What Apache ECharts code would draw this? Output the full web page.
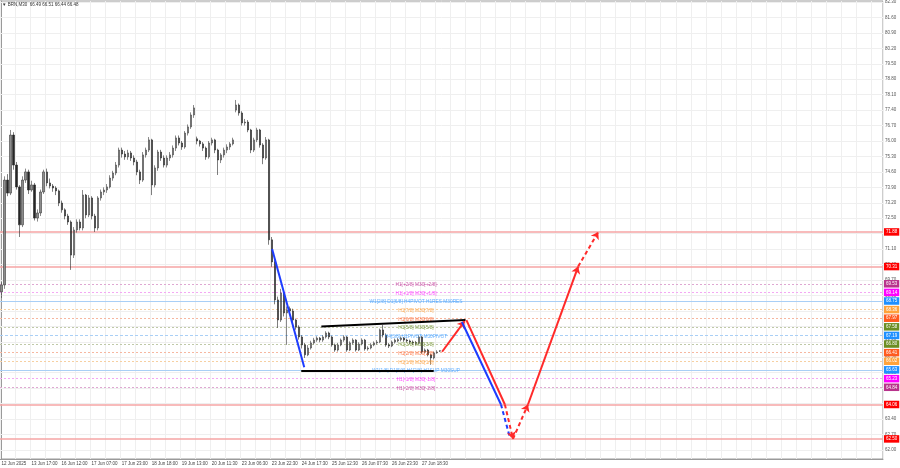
<!DOCTYPE html>
<html><head><meta charset="utf-8">
<script src="https://cdn.jsdelivr.net/npm/echarts@6/dist/echarts.min.js"></script>
<style>html,body{margin:0;padding:0;background:#fff}#c{width:900px;height:468px}</style>
</head><body><div id="c"></div>
<script>
// ---------- data ----------
const titleText = '\u25BC BRN,M30  66.49 66.51 66.44 66.48';
const xLabels = ['12 Jun 2025','13 Jun 17:00','16 Jun 12:00','17 Jun 07:00','17 Jun 23:00','18 Jun 18:00','19 Jun 13:00','20 Jun 11:30','23 Jun 06:30','23 Jun 22:30','24 Jun 17:30','25 Jun 12:30','26 Jun 07:30','26 Jun 23:30','27 Jun 18:30'];
const yTicks = [62.00,62.70,63.40,64.10,64.80,65.50,66.20,66.90,67.60,68.30,69.00,69.70,70.40,71.10,71.80,72.50,73.20,73.90,74.60,75.30,76.00,76.70,77.40,78.10,78.80,79.50,80.20,80.90,81.60,82.30];
// [open, close, low, high]
const ohlc = [
[69.16,69.48,68.89,69.60],[69.48,74.23,69.30,74.40],[74.23,73.64,73.50,74.50],[73.64,76.27,73.55,76.50],[76.27,74.91,74.70,76.40],
[74.91,73.92,73.80,75.05],[73.92,72.20,71.65,74.00],[72.20,74.23,72.10,74.40],[74.23,74.60,74.10,74.75],[74.60,73.78,73.60,74.70],
[73.78,74.01,73.70,74.20],[74.01,72.51,72.40,74.10],[72.51,72.74,72.35,72.90],[72.74,73.69,72.60,73.80],[73.69,74.60,73.60,74.70],
[74.60,74.10,73.95,74.75],[74.10,73.96,73.85,74.30],[73.96,73.87,73.70,74.05],[73.87,73.74,73.55,73.95],[73.74,73.19,73.05,73.80],
[73.19,72.88,72.75,73.30],[72.88,72.60,72.45,72.95],[72.60,72.33,72.20,72.70],[72.33,70.83,70.16,72.40],[70.83,71.97,70.70,72.10],
[71.97,72.33,71.85,72.45],[72.33,72.06,71.95,72.45],[72.06,73.55,71.95,73.78],[73.55,72.65,72.50,73.60],[72.65,73.42,72.55,73.55],
[73.42,72.60,72.45,73.50],[72.60,72.06,71.88,72.70],[72.06,73.42,71.95,73.50],[73.42,73.69,73.30,73.80],[73.69,73.78,73.55,73.90],
[73.78,73.92,73.65,74.05],[73.92,74.32,73.85,74.45],[74.32,74.55,74.20,74.65],[74.55,74.91,74.45,75.05],[74.91,75.59,74.80,75.70],
[75.59,75.41,75.25,75.70],[75.41,75.28,75.15,75.55],[75.28,75.46,75.15,75.60],[75.46,75.23,75.10,75.55],[75.23,75.05,74.90,75.35],
[75.05,74.60,74.45,75.15],[74.60,74.23,74.05,74.70],[74.23,75.37,74.15,75.50],[75.37,75.59,75.25,75.70],[75.59,76.05,75.50,76.18],
[76.05,74.01,73.55,76.10],[74.01,74.78,73.90,74.90],[74.78,75.50,74.65,75.60],[75.50,75.23,75.10,75.60],[75.23,74.91,74.80,75.35],
[74.91,75.23,74.80,75.35],[75.23,75.37,75.10,75.50],[75.37,75.68,75.25,75.80],[75.68,76.14,75.55,76.25],[76.14,75.91,75.80,76.25],
[75.91,75.73,75.60,76.00],[75.73,76.36,75.65,76.45],[76.36,76.64,76.25,76.75],[76.64,77.18,76.55,77.30],[77.18,77.50,77.05,77.63],
[76.10,76.00,75.85,76.20],[76.00,75.87,75.75,76.05],[75.87,75.68,75.55,75.95],[75.68,75.28,75.15,75.75],[75.28,75.91,75.20,76.00],
[75.91,76.05,75.80,76.15],[76.05,75.59,75.45,76.10],[75.59,75.14,74.46,75.65],[75.14,75.37,75.00,75.45],[75.37,75.59,75.25,75.70],
[75.59,75.73,75.45,75.85],[75.73,75.87,75.60,75.95],[75.87,76.05,75.80,76.15],[77.40,77.63,77.30,77.86],[77.63,77.27,77.15,77.70],
[77.27,76.82,76.70,77.35],[76.82,76.86,76.70,77.00],[76.86,76.50,76.40,76.95],[76.50,75.59,75.45,76.55],[75.59,76.05,75.50,76.15],
[76.05,76.50,75.95,76.60],[76.50,75.82,75.70,76.55],[75.82,75.23,74.95,75.90],[75.23,76.05,75.15,76.18],[76.05,71.52,71.30,76.10],
[71.52,70.52,70.30,71.65],[70.52,68.80,68.60,70.60],[68.80,67.89,67.53,68.95],[67.89,69.11,67.80,69.30],[69.11,68.21,68.05,69.20],
[68.21,68.34,66.76,68.50],[68.40,68.30,68.15,68.50],[68.30,67.89,67.75,68.40],[67.89,67.57,67.45,67.95],[67.57,67.12,67.00,67.65],
[67.12,66.76,66.60,67.20],[66.76,66.31,66.17,66.85],[66.31,66.62,66.25,66.75],[66.62,66.85,66.55,66.95],[66.85,66.98,66.78,67.08],
[66.98,67.07,66.90,67.15],[67.07,66.98,66.88,67.12],[66.98,67.12,66.90,67.20],[67.12,67.30,67.05,67.38],[67.30,67.12,67.02,67.36],
[67.12,66.76,66.68,67.18],[66.76,66.53,66.45,66.82],[66.53,66.76,66.46,66.85],[66.76,66.98,66.70,67.05],[66.98,67.12,66.90,67.20],
[67.12,66.53,66.45,67.16],[66.53,66.85,66.48,66.92],[66.85,66.98,66.78,67.06],[66.98,66.53,66.46,67.02],[66.53,66.80,66.48,66.88],
[66.80,66.98,66.74,67.06],[66.98,66.58,66.50,67.03],[66.58,66.62,66.50,66.70],[66.62,66.76,66.56,66.84],[66.76,66.85,66.70,66.92],
[66.85,66.89,66.78,66.98],[66.89,67.44,66.84,67.50],[67.44,67.21,67.10,67.66],[67.21,66.76,66.68,67.28],[66.76,66.71,66.62,66.84],
[66.71,66.89,66.66,66.96],[66.89,66.98,66.82,67.05],[66.94,67.00,66.88,67.08],[67.00,67.07,66.92,67.14],[67.07,66.98,66.90,67.12],
[66.98,66.94,66.86,67.04],[66.94,66.89,66.80,67.00],[66.89,66.85,66.76,66.96],[66.87,66.83,66.74,66.94],[66.83,67.12,66.78,67.20],
[67.12,66.44,66.36,67.16],[66.44,66.53,66.38,66.60],[66.53,66.31,66.24,66.58],[66.31,66.17,65.86,66.36],[66.17,66.40,66.10,66.46],
[66.40,66.44,66.36,66.52],[66.49,66.48,66.44,66.51]
];
const levelValues = [71.88,70.31,69.53,69.14,68.75,68.36,67.97,67.58,67.19,66.80,66.41,66.02,65.63,65.23,64.84,64.06,62.50];
const levelKinds  = ['red','red','purple','magenta','w1','orange','orangered','olive','pivot','olive','orangered','orange','w1','magenta','purple','red','red'];
const levelTexts  = ['','','H1[+2/8] M30[+2/8]','H1[+1/8] M30[+1/8]','W1[2/8] D1[6/8] H4PIVOT H1RES M30RES','H1[7/8] M30[7/8]','H1[6/8] M30[6/8]','H1[5/8] M30[5/8]','H4[3/8] H1PIVOT M30PIVOT','H1[3/8] M30[3/8]','H1[2/8] M30[2/8]','H1[1/8] M30[1/8]','W1[1/8] D1[5/8] H4[2/8] H1SUP M30SUP','H1[-1/8] M30[-1/8]','H1[-2/8] M30[-2/8]','',''];
const lastPrice = 66.48;
// annotation drawings: [barIndex, price]
const blueTrend     = [[90.1,71.11],[100.8,65.75]];
const channelTop    = [[106.5,67.59],[154.5,67.89]];
const channelBottom = [[99.8,65.59],[143.9,65.59]];
const projUp1       = [[146.7,66.45],[154.2,67.84]];
const projDownBlue  = [[153.3,67.80],[166.3,64.06],[169.3,62.55]];
const projDownRed   = [[154.8,67.88],[167.6,64.06],[170.3,62.50]];
const projUpRed     = [[170.3,62.50],[175.3,64.06],[192.0,70.31],[198.7,71.88]];

// ---------- styles ----------
const FONT = '"Liberation Sans", Arial, sans-serif';
const N = 294;
const TEXT_X = 138;
const levelStyle = {
  red:       {line:'#f6a4a4', width:1.5, type:'solid',  box:'#ff0000', text:'#ff0000'},
  purple:    {line:'#dfa8d2', width:1,   type:[2,2],    box:'#b8338c', text:'#c23a98'},
  magenta:   {line:'#f4a8f4', width:1,   type:[2,2],    box:'#ff00ff', text:'#ff2cff'},
  w1:        {line:'#a9cff6', width:1,   type:'solid',  box:'#1e90ff', text:'#3a9bff'},
  pivot:     {line:'#a9cff6', width:1,   type:[3,2],    box:'#1e90ff', text:'#3a9bff'},
  orange:    {line:'#f6d0a2', width:1,   type:[2,2],    box:'#ffa33a', text:'#ff9a2e'},
  orangered: {line:'#f6b7a0', width:1,   type:[2,2],    box:'#ff5a1e', text:'#ff5a1e'},
  olive:     {line:'#c0c9a8', width:1,   type:[2,2],    box:'#6b8e23', text:'#6b8e23'}
};
const boxLabel = (txt, bg) => ({show:true, position:'end', distance:1, formatter:txt, color:'#fff',
  backgroundColor:bg, padding:[1.5,2,1,2], fontSize:4.5, fontFamily:FONT});

const levelLines = levelValues.map((v,k) => {
  const s = levelStyle[levelKinds[k]];
  return {yAxis:v, lineStyle:{color:s.line, width:s.width, type:s.type}, label:boxLabel(v.toFixed(2), s.box)};
});
levelLines.push({yAxis:lastPrice, lineStyle:{opacity:0, width:0}, label:boxLabel(lastPrice.toFixed(2), '#000')});

const textPoints = levelValues.map((v,k) => levelTexts[k] ? {
  value:[TEXT_X, v],
  label:{show:true, position:'inside', offset:[0,1], formatter:levelTexts[k], color:levelStyle[levelKinds[k]].text,
         fontSize:4.8, fontFamily:FONT}
} : null).filter(Boolean);

function seg(a, b, color, dashed, arrow) {
  return [
    {coord:a, symbol:'none', lineStyle:{color, width:2, type: dashed ? [4,3] : 'solid'}},
    {coord:b, symbol: arrow ? 'arrow' : 'none', symbolSize: 7}
  ];
}
const annot = [
  seg(blueTrend[0], blueTrend[1], '#1d3cff', false, false),
  seg(channelTop[0], channelTop[1], '#000000', false, false),
  seg(channelBottom[0], channelBottom[1], '#000000', false, false),
  seg(projUp1[0], projUp1[1], '#ff2a2a', false, true),
  seg(projDownBlue[0], projDownBlue[1], '#1d3cff', false, false),
  seg(projDownBlue[1], projDownBlue[2], '#1d3cff', true, false),
  seg(projDownRed[0], projDownRed[1], '#ff2a2a', false, false),
  seg(projDownRed[1], projDownRed[2], '#ff2a2a', true, true),
  seg(projUpRed[0], projUpRed[1], '#ff2a2a', true, true),
  seg(projUpRed[1], projUpRed[2], '#ff2a2a', false, true),
  seg(projUpRed[2], projUpRed[3], '#ff2a2a', true, true)
];

const cats = Array.from({length:N}, (_, i) => String(i));

const chart = echarts.init(document.getElementById('c'), null, {renderer:'canvas'});
chart.setOption({
  animation:false,
  backgroundColor:'#ffffff',
  textStyle:{fontFamily:FONT},
  title:{text:titleText, left:2, top:2, padding:0,
    textStyle:{fontSize:4.5, fontWeight:'normal', color:'#333', fontFamily:FONT}},
  grid:{left:0, right:17, top:1, bottom:9, show:true, borderColor:'#9a9a9a', borderWidth:1,
    backgroundColor:'#fff', containLabel:false, outerBoundsMode:'none'},
  xAxis:[
    {type:'category', data:cats, boundaryGap:true,
     axisLine:{lineStyle:{color:'#9a9a9a'}}, axisTick:{show:false},
     axisLabel:{interval:(i) => i % 10 === 0 && i / 10 < xLabels.length,
       formatter:(v, i) => xLabels[i / 10] || '', align:'left', fontSize:4.5, color:'#444', margin:2, fontFamily:FONT},
     splitLine:{show:true, interval:4, lineStyle:{color:'#efefef', width:1}}},
    {type:'value', min:-0.5, max:N - 0.5, show:false}
  ],
  yAxis:{type:'value', position:'right', min:61.59, max:82.345, scale:true,
    axisLine:{show:true, lineStyle:{color:'#9a9a9a'}}, axisTick:{show:false},
    splitLine:{show:false},
    axisLabel:{customValues:yTicks, formatter:(v) => v.toFixed(2), fontSize:4.5, color:'#555', margin:2, fontFamily:FONT}},
  series:[
    {type:'line', xAxisIndex:1, data:[], silent:true,
     markLine:{silent:true, z:1, symbol:'none', animation:false, label:{show:false},
       lineStyle:{color:'#efefef', width:1, type:'solid'},
       data:yTicks.map(v => ({yAxis:v}))}},
    {type:'line', xAxisIndex:1, data:[], silent:true,
     markLine:{silent:true, z:2, symbol:'none', animation:false, data:levelLines}},
    {type:'candlestick', xAxisIndex:0, data:ohlc, barWidth:1.6, z:3,
     itemStyle:{color:'#8c8c8c', color0:'#262626', borderColor:'#3a3a3a', borderColor0:'#262626', borderWidth:0.6}},
    {type:'scatter', xAxisIndex:1, data:textPoints, symbolSize:0, z:6, silent:true},
    {type:'line', xAxisIndex:1, data:[], silent:true,
     markLine:{silent:true, z:7, animation:false, label:{show:false}, data:annot}}
  ]
});
</script>
</body></html>
